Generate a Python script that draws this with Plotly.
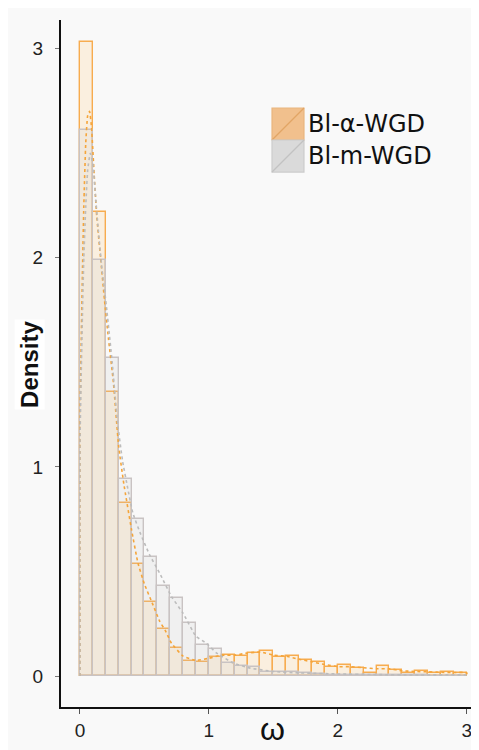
import plotly.graph_objects as go

# ---- data ----
bin_width = 0.1
bin_centers = [round(0.05 + 0.1 * i, 2) for i in range(30)]
alpha_density = [3.03, 2.22, 1.36, 0.826, 0.537, 0.356, 0.226, 0.134, 0.073, 0.067,
                 0.092, 0.100, 0.098, 0.112, 0.118, 0.091, 0.097, 0.075, 0.067, 0.043,
                 0.051, 0.037, 0.014, 0.046, 0.027, 0.016, 0.025, 0.016, 0.018, 0.016]
m_density = [2.61, 1.99, 1.52, 0.943, 0.750, 0.569, 0.432, 0.373, 0.256, 0.149,
             0.129, 0.064, 0.048, 0.042, 0.021, 0.019, 0.018, 0.013, 0.010, 0.007,
             0.006, 0.005, 0.005, 0.004, 0.004, 0.003, 0.003, 0.002, 0.002, 0.002]

alpha_kde_x = [0, 0, 0.01, 0.02, 0.03, 0.045, 0.06, 0.075, 0.09, 0.11, 0.13, 0.16, 0.19,
               0.22, 0.26, 0.30, 0.34, 0.40, 0.45, 0.50, 0.56, 0.62, 0.66, 0.71, 0.80,
               0.90, 1.0, 1.1, 1.2, 1.3, 1.4, 1.5, 1.6, 1.7, 1.8, 1.9, 2.0, 2.1, 2.2,
               2.3, 2.4, 2.5, 2.6, 2.7, 2.8, 2.9, 3.0, 3.0]
alpha_kde_y = [0, 1.2, 1.6, 1.95, 2.25, 2.55, 2.68, 2.70, 2.62, 2.40, 2.20, 2.00, 1.80,
               1.62, 1.40, 1.10, 0.92, 0.70, 0.54, 0.44, 0.35, 0.26, 0.22, 0.157, 0.095,
               0.075, 0.085, 0.100, 0.100, 0.110, 0.115, 0.100, 0.095, 0.080, 0.068,
               0.055, 0.045, 0.045, 0.040, 0.035, 0.035, 0.025, 0.022, 0.020, 0.018,
               0.017, 0.016, 0]
m_kde_x = [0, 0, 0.01, 0.02, 0.03, 0.045, 0.06, 0.08, 0.10, 0.12, 0.14, 0.17, 0.19, 0.21,
           0.25, 0.29, 0.33, 0.37, 0.41, 0.47, 0.54, 0.62, 0.71, 0.80, 0.90, 0.98, 1.06,
           1.19, 1.32, 1.5, 1.7, 2.0, 2.3, 2.6, 3.0, 3.0]
m_kde_y = [0, 1.1, 1.45, 1.75, 2.0, 2.25, 2.42, 2.50, 2.45, 2.30, 2.15, 1.95, 1.85, 1.74,
           1.50, 1.22, 1.03, 0.90, 0.78, 0.68, 0.58, 0.49, 0.38, 0.30, 0.19, 0.157, 0.11,
           0.062, 0.038, 0.022, 0.015, 0.010, 0.007, 0.005, 0.004, 0]

series_names = ["Bl-α-WGD", "Bl-m-WGD"]
x_ticks = [0, 1, 2, 3]
y_ticks = [0, 1, 2, 3]

ORANGE_LINE = "#f7ac4f"
ORANGE_FILL = "rgba(255,205,130,0.22)"
GREY_LINE = "#c9c3c3"
GREY_FILL = "rgba(200,200,200,0.19)"
BG = "#f9f9f9"

fig = go.Figure()
fig.add_trace(go.Bar(x=bin_centers, y=alpha_density, width=bin_width,
                     marker=dict(color=ORANGE_FILL, line=dict(color=ORANGE_LINE, width=1.4)),
                     name=series_names[0], showlegend=False))
fig.add_trace(go.Bar(x=bin_centers, y=m_density, width=bin_width,
                     marker=dict(color=GREY_FILL, line=dict(color=GREY_LINE, width=1.4)),
                     name=series_names[1], showlegend=False))
fig.add_trace(go.Scatter(x=alpha_kde_x, y=alpha_kde_y, mode="lines",
                         line=dict(color="#f5a53a", width=1.6, dash="3px,3px", shape="spline", smoothing=0.4),
                         showlegend=False, hoverinfo="skip"))
fig.add_trace(go.Scatter(x=m_kde_x, y=m_kde_y, mode="lines",
                         line=dict(color="#bcbcbc", width=1.6, dash="3px,3px", shape="spline", smoothing=0.4),
                         showlegend=False, hoverinfo="skip"))

# legend keys (decoration)
key_x0, key_x1 = 0.5048, 0.5813
key_rows = [(0.8253, 0.8719, "#f1c08d", "#e9b57e", "#e2a565"),
            (0.7787, 0.8253, "#dadada", "#cccccc", "#c2c2c2")]
shapes = []
annotations = []
for (y0, y1, fill, border, diag), name in zip(key_rows, series_names):
    shapes.append(dict(type="rect", xref="paper", yref="paper", x0=key_x0, x1=key_x1,
                       y0=y0, y1=y1, fillcolor=fill, line=dict(color=border, width=1.2)))
    shapes.append(dict(type="line", xref="paper", yref="paper", x0=key_x0, x1=key_x1,
                       y0=y0, y1=y1, line=dict(color=diag, width=1.2)))
    annotations.append(dict(xref="paper", yref="paper", x=0.586, y=(y0 + y1) / 2,
                            text=name, showarrow=False, xanchor="left", yanchor="middle",
                            font=dict(family="DejaVu Sans", size=24, color="#111111")))

annotations.append(dict(xref="paper", yref="paper", x=0.505, y=-0.0615, text="ω",
                        showarrow=False, xanchor="center", yanchor="bottom",
                        font=dict(family="Liberation Sans", size=32, color="#111111")))
annotations.append(dict(xref="paper", yref="paper", x=-0.074, y=0.498, text="<b>Density</b>",
                        textangle=-90, showarrow=False, xanchor="center", yanchor="middle",
                        bgcolor="#ffffff",
                        font=dict(family="Liberation Sans", size=24, color="#111111")))

fig.update_layout(
    width=471, height=742,
    margin=dict(l=53, r=0, t=12, b=43),
    paper_bgcolor=BG, plot_bgcolor=BG,
    barmode="overlay", bargap=0,
    shapes=shapes, annotations=annotations,
    showlegend=False,
)
fig.update_xaxes(range=[-0.147, 3.095], tickvals=x_ticks, showgrid=False, zeroline=False,
                 showline=True, linecolor="#111111", linewidth=2,
                 ticks="outside", ticklen=5, tickcolor="#555555", tickwidth=1,
                 tickfont=dict(family="Liberation Sans", size=19, color="#222222"))
fig.update_yaxes(range=[-0.148, 3.137], tickvals=y_ticks, showgrid=False, zeroline=False,
                 showline=True, linecolor="#111111", linewidth=2,
                 ticks="outside", ticklen=4, tickcolor="#777777", tickwidth=1,
                 ticklabelstandoff=8,
                 tickfont=dict(family="Liberation Sans", size=19, color="#222222"))

fig.write_html("out.html")
